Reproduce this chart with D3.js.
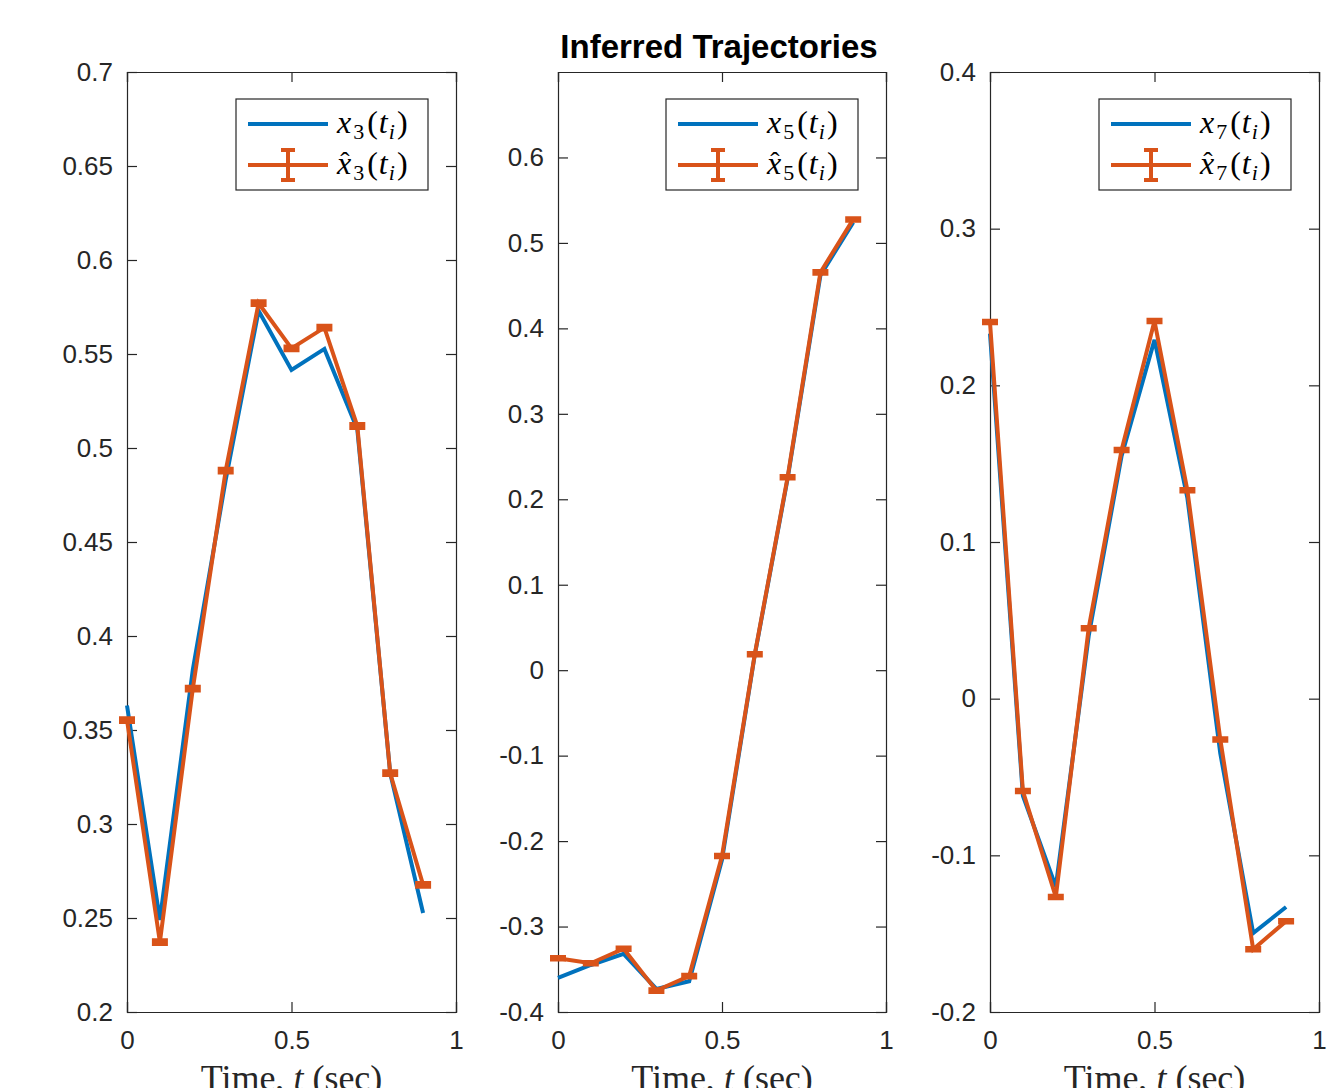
<!DOCTYPE html>
<html>
<head>
<meta charset="utf-8">
<script src="https://cdn.jsdelivr.net/npm/d3@7"></script>
<style>
  body { margin: 0; background: #fff; }
  svg { display: block; }
</style>
</head>
<body>
<div id="chart"></div>
<script>
// ---------------------------------------------------------------
// Data
// ---------------------------------------------------------------
var times = [0, 0.1, 0.2, 0.3, 0.4, 0.5, 0.6, 0.7, 0.8, 0.9];

var x3True = [0.363, 0.249, 0.382, 0.483, 0.573, 0.5415, 0.5527, 0.510, 0.327, 0.2527];
var x3Est  = [0.3553, 0.2372, 0.372, 0.488, 0.577, 0.553, 0.564, 0.5117, 0.327, 0.2676];
var x3Err  = [0.001, 0.001, 0.001, 0.001, 0.001, 0.001, 0.001, 0.001, 0.001, 0.001];

var x5True = [-0.360, -0.345, -0.332, -0.373, -0.364, -0.222, 0.018, 0.224, 0.462, 0.524];
var x5Est  = [-0.337, -0.343, -0.326, -0.375, -0.358, -0.2175, 0.0187, 0.2257, 0.4655, 0.5275];
var x5Err  = [0.0015, 0.0015, 0.0015, 0.0015, 0.0015, 0.0015, 0.0015, 0.0015, 0.0015, 0.0015];

var x7True = [0.233, -0.062, -0.120, 0.040, 0.155, 0.229, 0.128, -0.035, -0.1496, -0.133];
var x7Est  = [0.2404, -0.059, -0.1266, 0.045, 0.1587, 0.241, 0.133, -0.026, -0.160, -0.142];
var x7Err  = [0.0008, 0.0008, 0.0008, 0.0008, 0.0008, 0.0008, 0.0008, 0.0008, 0.0008, 0.0008];

var xTicks = [0, 0.5, 1];
var yTicks3 = [0.2, 0.25, 0.3, 0.35, 0.4, 0.45, 0.5, 0.55, 0.6, 0.65, 0.7];
var yTicks5 = [-0.4, -0.3, -0.2, -0.1, 0, 0.1, 0.2, 0.3, 0.4, 0.5, 0.6];
var yTicks7 = [-0.2, -0.1, 0, 0.1, 0.2, 0.3, 0.4];

var panels = [
  { idx: '3', left: 127, right: 456, yDomain: [0.2, 0.7],  yTicks: yTicks3, tru: x3True, est: x3Est, err: x3Err },
  { idx: '5', left: 558, right: 886, yDomain: [-0.4, 0.7], yTicks: yTicks5, tru: x5True, est: x5Est, err: x5Err },
  { idx: '7', left: 990, right: 1319, yDomain: [-0.2, 0.4], yTicks: yTicks7, tru: x7True, est: x7Est, err: x7Err }
];

// ---------------------------------------------------------------
// Layout / style
// ---------------------------------------------------------------
var W = 1337, H = 1088;
var TOP = 72, BOTTOM = 1012;
var BLUE = '#0072BD', ORANGE = '#D95319', AXIS = '#262626';
var SANS = '"Liberation Sans", Arial, Helvetica, sans-serif';
var SERIF = '"Liberation Serif", "Times New Roman", serif';
var LW = 4, CAP = 8, TICK = 10;

var svg = d3.select('#chart').append('svg')
  .attr('width', W).attr('height', H)
  .attr('viewBox', '0 0 ' + W + ' ' + H);

function fmt(v) { return String(+v.toFixed(2)); }

panels.forEach(function (p) {
  var x = d3.scaleLinear().domain([0, 1]).range([p.left, p.right]);
  var y = d3.scaleLinear().domain(p.yDomain).range([BOTTOM, TOP]);
  var g = svg.append('g');

  // axes: bottom/left with labels, top/right ticks only (box on)
  var axB = g.append('g').attr('transform', 'translate(0,' + BOTTOM + ')')
    .call(d3.axisBottom(x).tickValues(xTicks).tickSize(-TICK).tickPadding(20).tickFormat(fmt));
  var axT = g.append('g').attr('transform', 'translate(0,' + TOP + ')')
    .call(d3.axisTop(x).tickValues(xTicks).tickSize(-TICK).tickFormat(''));
  var axL = g.append('g').attr('transform', 'translate(' + p.left + ',0)')
    .call(d3.axisLeft(y).tickValues(p.yTicks).tickSize(-TICK).tickPadding(14).tickFormat(fmt));
  var axR = g.append('g').attr('transform', 'translate(' + p.right + ',0)')
    .call(d3.axisRight(y).tickValues(p.yTicks).tickSize(-TICK).tickFormat(''));

  [axB, axT, axL, axR].forEach(function (a) {
    a.select('.domain').attr('stroke', AXIS).attr('stroke-width', 1.2);
    a.selectAll('.tick line').attr('stroke', AXIS).attr('stroke-width', 1.2);
    a.selectAll('.tick text')
      .attr('fill', AXIS).attr('font-family', SANS).attr('font-size', 26);
  });
  axB.selectAll('.tick text').attr('dy', '0.66em');

  // x label (cut off at the bottom edge, as in the original figure)
  var xl = g.append('text')
    .attr('x', (p.left + p.right) / 2).attr('y', 1090)
    .attr('text-anchor', 'middle')
    .attr('font-family', SERIF).attr('font-size', 36).attr('fill', AXIS);
  xl.append('tspan').text('Time, ');
  xl.append('tspan').attr('font-style', 'italic').text('t');
  xl.append('tspan').text(' (sec)');

  // lines
  var pts = times.map(function (t, i) { return { t: t, a: p.tru[i], b: p.est[i], e: p.err[i] }; });
  var lineA = d3.line().x(function (d) { return x(d.t); }).y(function (d) { return y(d.a); });
  var lineB = d3.line().x(function (d) { return x(d.t); }).y(function (d) { return y(d.b); });

  g.append('path').datum(pts).attr('d', lineA)
    .attr('fill', 'none').attr('stroke', BLUE).attr('stroke-width', LW).attr('stroke-linejoin', 'miter');
  g.append('path').datum(pts).attr('d', lineB)
    .attr('fill', 'none').attr('stroke', ORANGE).attr('stroke-width', LW).attr('stroke-linejoin', 'miter');

  g.selectAll('path.eb').data(pts).join('path').attr('class', 'eb')
    .attr('d', function (d) {
      var cx = x(d.t), y0 = y(d.b - d.e), y1 = y(d.b + d.e);
      return 'M' + (cx - CAP) + ',' + y1 + 'H' + (cx + CAP) +
             'M' + cx + ',' + y1 + 'V' + y0 +
             'M' + (cx - CAP) + ',' + y0 + 'H' + (cx + CAP);
    })
    .attr('fill', 'none').attr('stroke', ORANGE).attr('stroke-width', LW);

  // legend
  var lx = p.right - 220, ly = TOP + 27;
  var lg = g.append('g').attr('transform', 'translate(' + lx + ',' + ly + ')');
  lg.append('rect').attr('width', 192).attr('height', 91)
    .attr('fill', '#fff').attr('stroke', AXIS).attr('stroke-width', 1.2);

  var rows = [
    { y: 25, color: BLUE, hat: false, eb: false },
    { y: 66, color: ORANGE, hat: true, eb: true }
  ];
  rows.forEach(function (r) {
    lg.append('line').attr('x1', 12).attr('x2', 92).attr('y1', r.y).attr('y2', r.y)
      .attr('stroke', r.color).attr('stroke-width', LW);
    if (r.eb) {
      lg.append('path')
        .attr('d', 'M45,' + (r.y - 15) + 'H59M52,' + (r.y - 15) + 'V' + (r.y + 15) + 'M45,' + (r.y + 15) + 'H59')
        .attr('fill', 'none').attr('stroke', r.color).attr('stroke-width', LW);
    }
    var t = lg.append('text').attr('x', 101).attr('y', r.y + 9)
      .attr('font-family', SERIF).attr('font-size', 32).attr('fill', '#000');
    t.append('tspan').attr('font-style', 'italic').text('x');
    t.append('tspan').attr('font-size', 22).attr('dy', 6).attr('dx', 2).text(p.idx);
    t.append('tspan').attr('dy', -6).attr('dx', 3).text('(');
    t.append('tspan').attr('font-style', 'italic').attr('dx', 1).text('t');
    t.append('tspan').attr('font-style', 'italic').attr('font-size', 22).attr('dy', 6).attr('dx', 1).text('i');
    t.append('tspan').attr('dy', -6).attr('dx', 2).text(')');
    if (r.hat) {
      lg.append('text').attr('x', 109).attr('y', r.y + 6)
        .attr('text-anchor', 'middle')
        .attr('font-family', SERIF).attr('font-size', 28).attr('fill', '#000')
        .text('\u02C6');
    }
  });
});

// title
svg.append('text')
  .attr('x', 719).attr('y', 58)
  .attr('text-anchor', 'middle')
  .attr('font-family', SANS).attr('font-weight', 'bold').attr('font-size', 33)
  .attr('fill', '#000')
  .text('Inferred Trajectories');
</script>
</body>
</html>
